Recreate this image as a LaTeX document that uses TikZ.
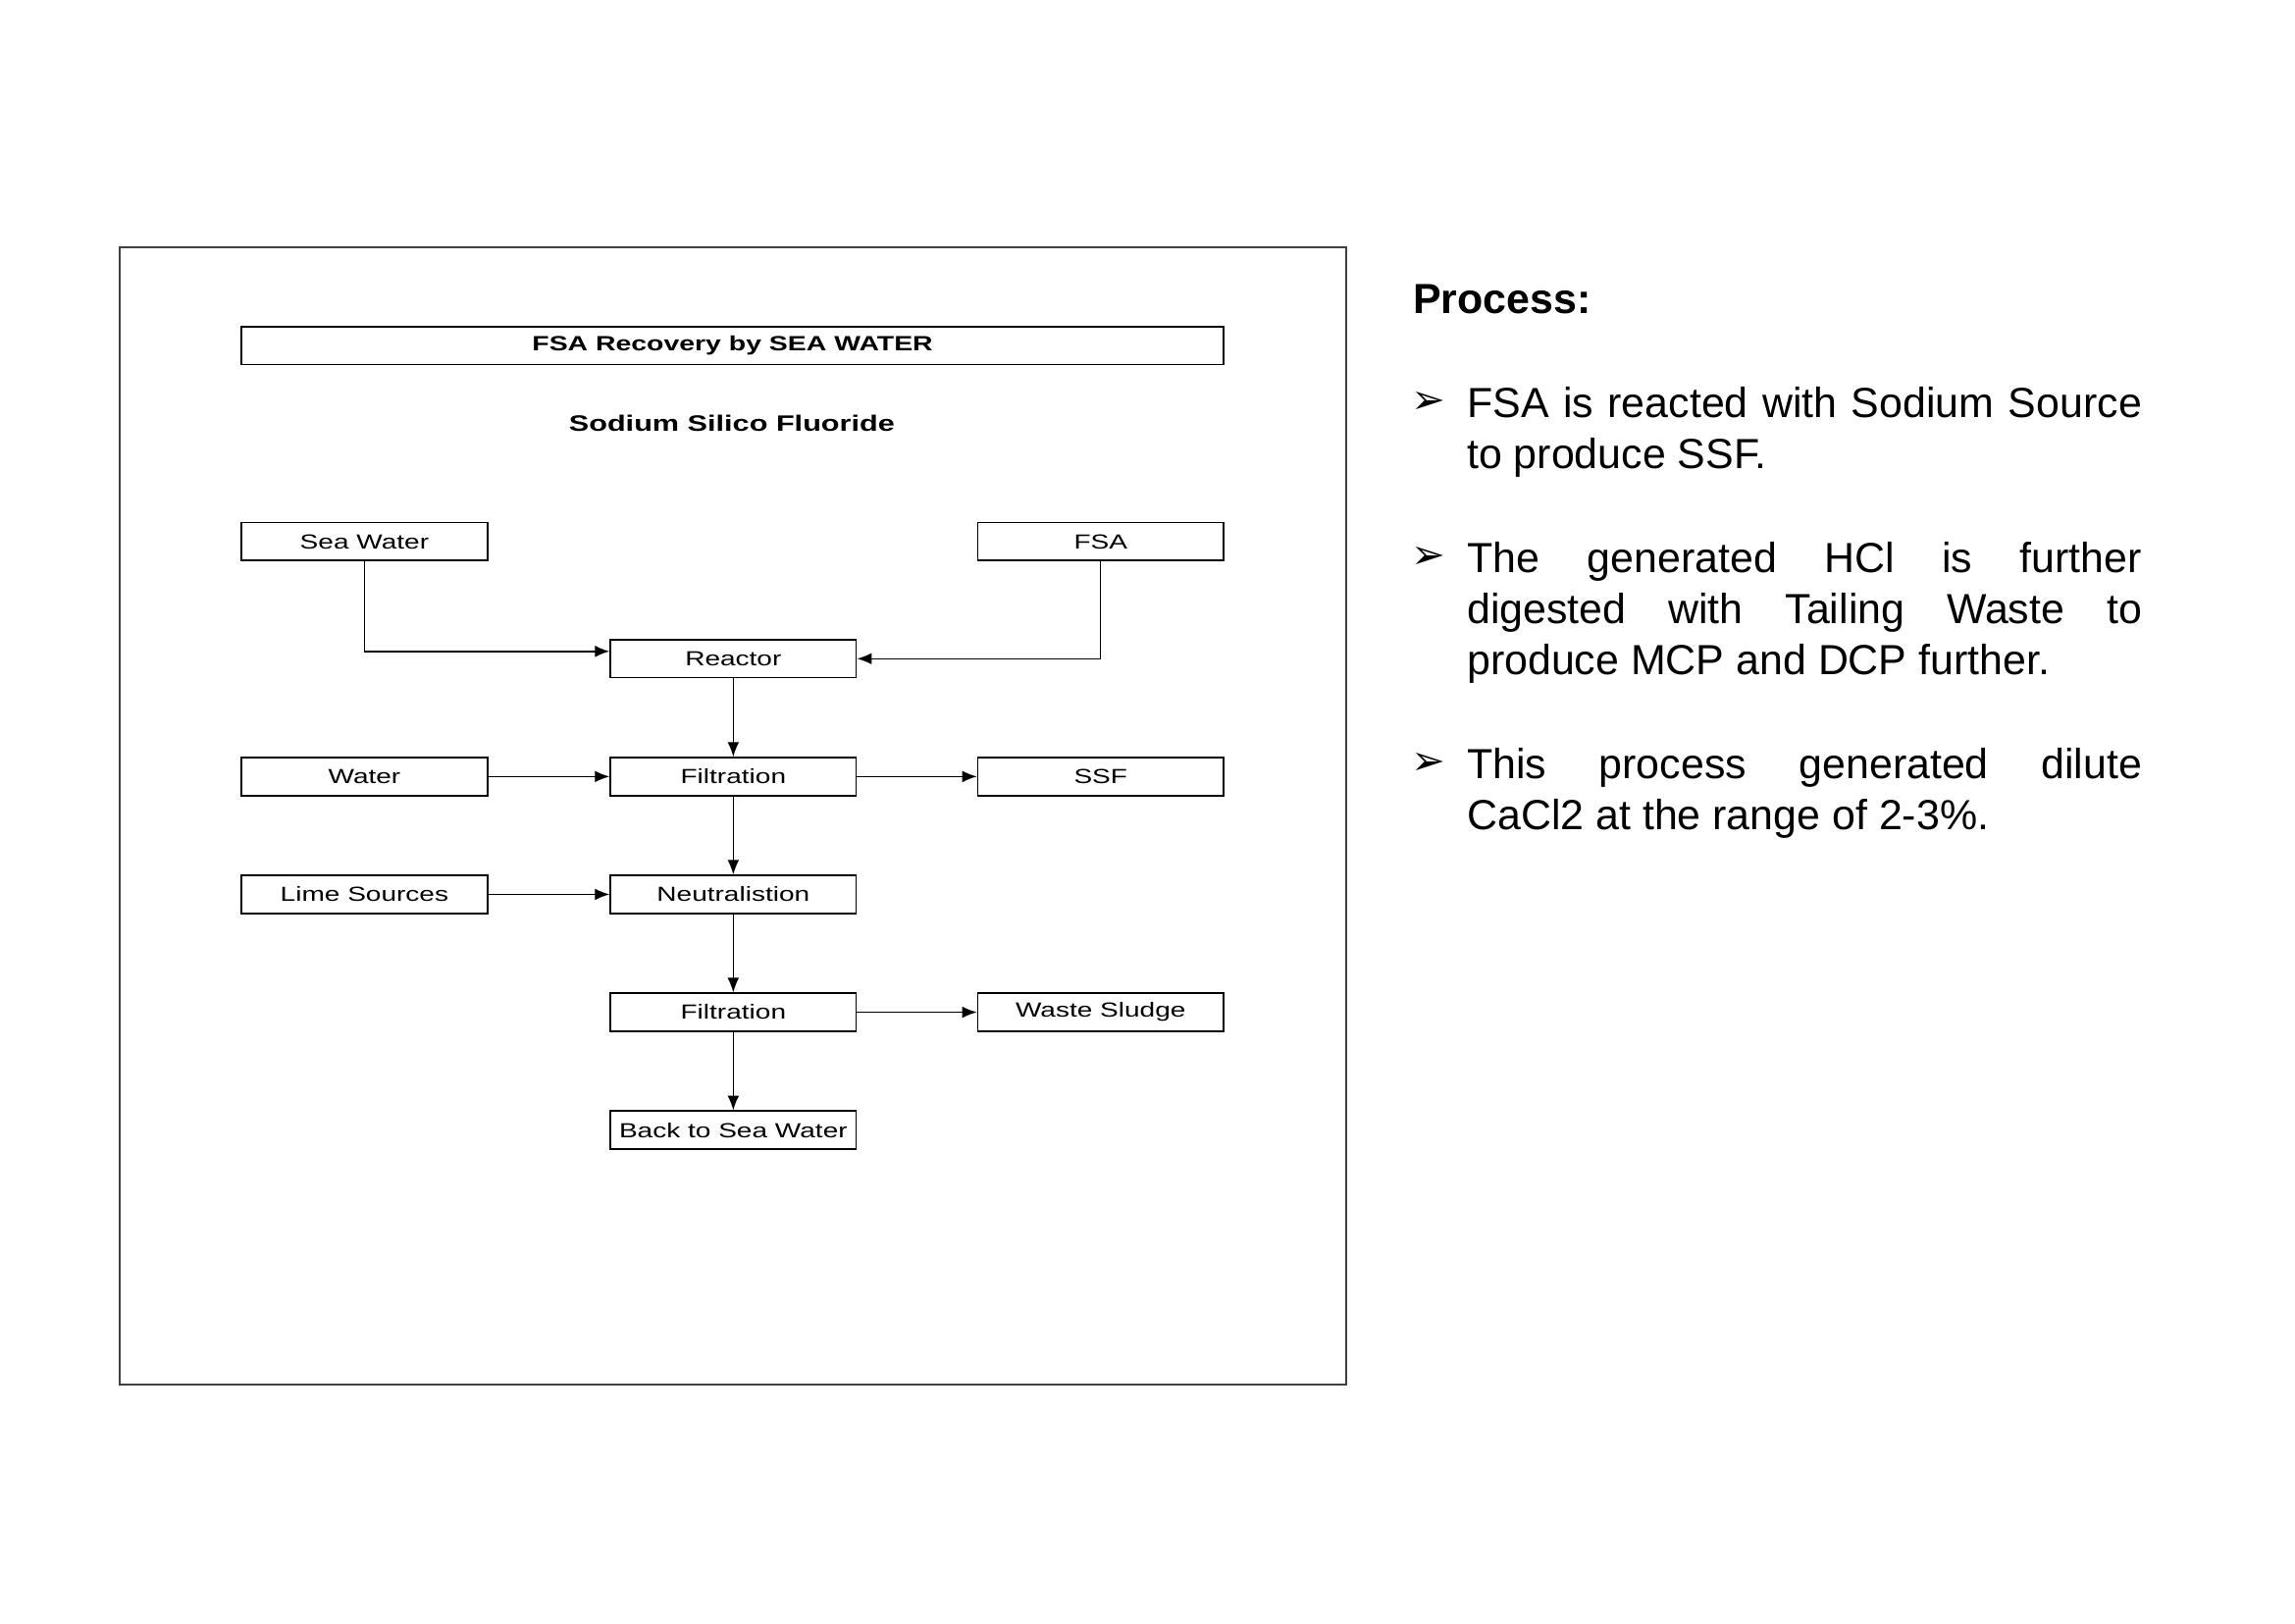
\documentclass[tikz,border=0pt]{standalone}
\usepackage{fontspec}
\setmainfont{Liberation Sans}
\newfontfamily\diagfont[FakeStretch=1.35]{Liberation Sans}
\newfontfamily\bulletfont{DejaVu Sans}
\usetikzlibrary{arrows.meta}

\begin{document}
\begin{tikzpicture}[x=0.01894cm, y=-0.01894cm, >={Latex[length=1.9mm,width=1.5mm]},
  caja/.style={rectangle, draw, line width=0.6pt, minimum width=3.18cm, minimum height=0.49cm, inner sep=0pt, font=\diagfont\fontsize{7.5}{9}\selectfont},
  flecha/.style={->, line width=0.5pt},
  punto/.style={inner sep=0pt, font=\bulletfont\fontsize{15}{17}\selectfont},
  parrafo/.style={anchor=north west, inner sep=0pt, text width=8.73cm, align=justify, font=\fontsize{15.5}{18.8}\selectfont}]
\useasboundingbox (0,0) rectangle (1568,1109);

% Marco del diagrama
\draw[line width=0.7pt, black!75] (82,169) rectangle (920,946);

% Titulos
\node (titulo) [caja, minimum width=12.71cm, font=\diagfont\fontsize{7.6}{9}\selectfont\bfseries] at (500.5,236) {FSA Recovery by SEA WATER};
\node (subtitulo) [font=\diagfont\fontsize{8.2}{10}\selectfont\bfseries] at (500,289) {Sodium Silico Fluoride};

% Cajas del proceso
\node (seawater) [caja] at (249,370) {Sea Water};
\node (fsa) [caja] at (752,370) {FSA};
\node (reactor) [caja] at (501,450) {Reactor};
\node (water) [caja] at (249,530.5) {Water};
\node (filtA) [caja] at (501,530.5) {Filtration};
\node (ssf) [caja] at (752,530.5) {SSF};
\node (lime) [caja] at (249,611) {Lime Sources};
\node (neutral) [caja] at (501,611) {Neutralistion};
\node (filtB) [caja] at (501,691.5) {Filtration};
\node (sludge) [caja] at (752,691.5) {Waste Sludge};
\node (back) [caja] at (501,772) {Back to Sea Water};

% Flechas
\draw[flecha] (seawater.south) |- ([yshift=2.7pt]reactor.west);
\draw[flecha] (fsa.south) |- (reactor.east);
\draw[flecha] (reactor) -- (filtA);
\draw[flecha] (water) -- (filtA);
\draw[flecha] (filtA) -- (ssf);
\draw[flecha] (filtA) -- (neutral);
\draw[flecha] (lime) -- (neutral);
\draw[flecha] (neutral) -- (filtB);
\draw[flecha] (filtB) -- (sludge);
\draw[flecha] (filtB) -- (back);

% Texto a la derecha
\node (proceso) [anchor=base west, inner sep=0pt, font=\fontsize{15.5}{18.8}\selectfont\bfseries] at (965,214) {Process:};

\node (puntoA) [punto] at (976,275) {➢};
\node (textoA) [parrafo] at (1002,264) {FSA is reacted with Sodium Source\linebreak to produce SSF.};

\node (puntoB) [punto] at (976,381) {➢};
\node (textoB) [parrafo] at (1002,370) {The generated HCl is further\linebreak digested with Tailing Waste to\linebreak produce MCP and DCP further.};

\node (puntoC) [punto] at (976,522) {➢};
\node (textoC) [parrafo] at (1002,511) {This process generated dilute\linebreak CaCl2 at the range of 2-3\%.};
\end{tikzpicture}
\end{document}
